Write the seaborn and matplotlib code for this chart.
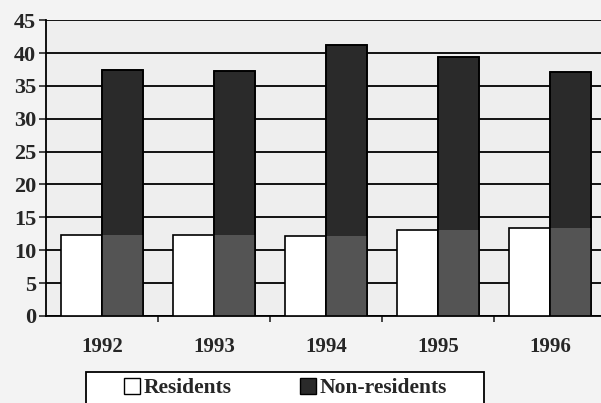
import pandas as pd
import seaborn as sns
import matplotlib.pyplot as plt
from matplotlib.patches import Patch, Rectangle

years = ["1992", "1993", "1994", "1995", "1996"]
residents = [12.3, 12.3, 12.1, 13.1, 13.4]
non_residents = [37.4, 37.2, 41.2, 39.4, 37.1]

df = pd.DataFrame({
    "year": years * 2,
    "value": residents + non_residents,
    "group": ["Residents"] * len(years) + ["Non-residents"] * len(years),
})

sns.set_style("white")
plt.rcParams["font.family"] = ["Liberation Serif", "DejaVu Serif"]
plt.rcParams["font.weight"] = "bold"

fig = plt.figure(figsize=(6.01, 4.03), dpi=100, facecolor="#f3f3f3")
ax = fig.add_axes([46 / 601, 0.216, 560 / 601, 0.734])
ax.set_facecolor("#eeeeee")

dark = "#2a2a2a"
palette = {"Residents": "white", "Non-residents": dark}
sns.barplot(data=df, x="year", y="value", hue="group", palette=palette,
            width=0.74, edgecolor="black", linewidth=1.2, saturation=1,
            ax=ax, legend=False, zorder=3)

# scanned look: lower part of the dark bars is lighter, up to residents level
dark_bars = ax.patches[len(years):2 * len(years)]
for bar, r in zip(dark_bars, residents):
    ax.bar(bar.get_x() + bar.get_width() / 2, r, width=bar.get_width(),
           color="#545454", linewidth=0, zorder=4)
    ax.add_patch(Rectangle((bar.get_x(), 0), bar.get_width(), bar.get_height(),
                           fill=False, edgecolor="black", linewidth=1.2, zorder=5))

ax.set_xlim(-0.5, len(years) - 0.5)
ax.set_ylim(0, 45)
ax.set_yticks(range(0, 50, 5))
ax.yaxis.grid(True, color="black", linewidth=1.3, zorder=0)
ax.set_axisbelow(True)
ax.set_xlabel("")
ax.set_ylabel("")
for s in ["top", "right"]:
    ax.spines[s].set_visible(False)
for s in ["left", "bottom"]:
    ax.spines[s].set_linewidth(1.3)
    ax.spines[s].set_color("black")

ax.tick_params(axis="y", left=True, length=5, width=1.2, labelsize=16, pad=2)
ax.tick_params(axis="x", bottom=False, labelsize=15, pad=12)
ax.set_xticks([i + 0.5 for i in range(len(years))], minor=True)
ax.tick_params(axis="x", which="minor", bottom=True, length=4, width=1.2)
for lab in ax.get_xticklabels() + ax.get_yticklabels():
    lab.set_fontweight("bold")

# legend box (bottom edge runs off the picture)
fig.patches.append(Rectangle((86 / 601, -0.02), 398 / 601, 0.02 + 31 / 403,
                             transform=fig.transFigure, facecolor="white",
                             edgecolor="black", linewidth=1.3, zorder=1))
handles = [Patch(facecolor="white", edgecolor="black", label="Residents"),
           Patch(facecolor=dark, edgecolor="black", label="Non-residents")]
fig.legend(handles=handles, loc="center left",
           bbox_to_anchor=(124 / 601, 1 - 388 / 403),
           ncol=2, frameon=False, prop={"size": 15.5, "weight": "bold"},
           handlelength=0.75, handleheight=0.75, handletextpad=0.15,
           columnspacing=3.2, borderpad=0, borderaxespad=0)

fig.savefig("out.png", dpi=100, facecolor=fig.get_facecolor())
